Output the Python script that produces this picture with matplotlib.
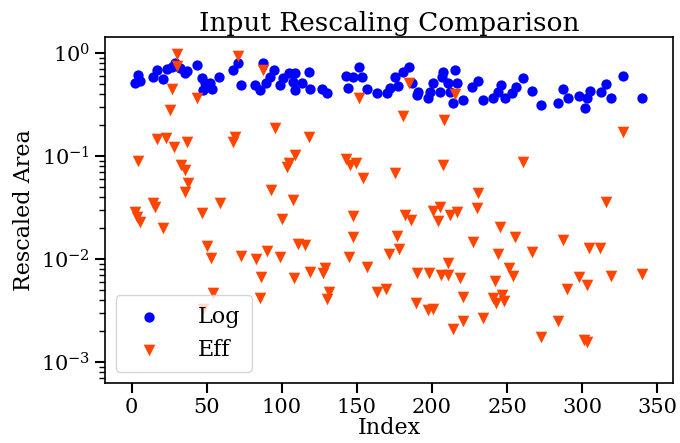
import matplotlib
matplotlib.use("Agg")
import matplotlib.pyplot as plt

plt.rcParams['font.family'] = ['DejaVu Serif']
plt.rcParams['mathtext.fontset'] = 'dejavuserif'

log_idx = [2, 4, 5.3, 14, 16.7, 20.7, 23.3, 26.7, 28.7, 32, 35.3, 36.7, 43.3, 46.7, 48.7, 47.3,
           52, 53.3, 58, 67.3, 70.7, 72.7, 87.3, 82, 85.3, 89.3, 92, 94.7, 98.7, 100.7, 104.7,
           108.7, 107.3, 108.7, 113.3, 118, 118.7, 126.7, 130, 142.7, 147.3, 151.3, 153.3, 144,
           156.7, 163.3, 170, 172, 175.3, 177.3, 180.7, 184.7, 186.7, 190, 190.7, 197.3, 198.7,
           200.7, 206.7, 207.3, 205.3, 210.7, 212, 215.3, 216.7, 214, 220.7, 226.7, 230.7, 234,
           240.7, 244, 246, 248.7, 253.3, 256, 260.7, 266.7, 272.7, 284, 287.3, 290.7, 298, 302,
           303.3, 305.3, 312.7, 316, 319.3, 327.3, 340]
log_val = [0.51, 0.61, 0.53, 0.58, 0.68, 0.56, 0.70, 0.73, 0.80, 0.71, 0.64, 0.67, 0.76, 0.57,
           0.51, 0.44, 0.51, 0.45, 0.58, 0.68, 0.80, 0.49, 0.80, 0.49, 0.44, 0.51, 0.58, 0.68,
           0.49, 0.57, 0.64, 0.64, 0.52, 0.44, 0.51, 0.65, 0.45, 0.45, 0.41, 0.60, 0.58, 0.73,
           0.58, 0.46, 0.45, 0.41, 0.41, 0.46, 0.58, 0.48, 0.65, 0.73, 0.51, 0.39, 0.42, 0.37,
           0.42, 0.51, 0.58, 0.65, 0.42, 0.51, 0.42, 0.68, 0.51, 0.33, 0.35, 0.47, 0.53, 0.35,
           0.37, 0.42, 0.49, 0.37, 0.41, 0.47, 0.57, 0.43, 0.31, 0.33, 0.45, 0.37, 0.38, 0.29,
           0.37, 0.43, 0.42, 0.50, 0.37, 0.60, 0.37]

eff_idx = [30, 30, 70.7, 26.7, 43.3, 25.3, 16.7, 22.7, 28, 36.7, 67.3, 68.7, 4, 87.3, 151.3,
           95.3, 118, 108.7, 142.7, 184.7, 215.3, 180.7, 208, 327.3, 32.7, 35.3, 37.3, 35.3,
           14, 15.3, 2, 3.3, 5.3, 46.7, 58.7, 20.7, 50, 52.7, 72.7, 104.7, 103.3, 145.3, 149.3,
           154, 92.7, 107.3, 100, 147.3, 147.3, 110.7, 115.3, 82.7, 90, 98.7, 144.7, 156.7,
           118.7, 127.3, 128.7, 86, 108, 175.3, 207.3, 260.7, 230.7, 230, 182, 186, 200.7,
           205.3, 204, 212, 216.7, 245.3, 255.3, 176.7, 178, 171.3, 227.3, 244, 210.7, 190,
           198, 206, 210.7, 218.7, 251.3, 254, 242, 266.7, 316, 287.3, 304.7, 312, 298, 319.3,
           340, 54, 47.3, 85.3, 131.3, 130, 163.3, 169.3, 189.3, 197.3, 200.7, 220.7, 220.7,
           214, 234, 240.7, 242.7, 246.7, 248, 290, 303.3, 284, 272.7, 301, 303]
eff_val = [0.98, 0.75, 0.94, 0.45, 0.37, 0.28, 0.146, 0.150, 0.122, 0.137, 0.137, 0.153,
           0.089, 0.68, 0.37, 0.187, 0.153, 0.102, 0.094, 0.51, 0.40, 0.245, 0.224, 0.171,
           0.082, 0.073, 0.055, 0.045, 0.035, 0.032, 0.0286, 0.0256, 0.0229, 0.028, 0.035,
           0.020, 0.0134, 0.0102, 0.0107, 0.086, 0.078, 0.082, 0.086, 0.061, 0.047, 0.037,
           0.0245, 0.026, 0.0164, 0.014, 0.0137, 0.010, 0.012, 0.0105, 0.0105, 0.0084, 0.0075,
           0.0073, 0.0082, 0.0067, 0.0065, 0.068, 0.082, 0.087, 0.044, 0.031, 0.0267, 0.0239,
           0.029, 0.032, 0.0234, 0.0267, 0.0286, 0.0205, 0.0164, 0.0167, 0.0125, 0.0112,
           0.0146, 0.0112, 0.0091, 0.0073, 0.0073, 0.0070, 0.0070, 0.0065, 0.0082, 0.0068,
           0.0061, 0.0117, 0.0357, 0.0153, 0.0128, 0.0128, 0.0067, 0.0068, 0.0071, 0.0047,
           0.0033, 0.0042, 0.0048, 0.0041, 0.0048, 0.0051, 0.0037, 0.0032, 0.0033, 0.0043,
           0.0025, 0.0021, 0.0027, 0.0042, 0.0037, 0.0045, 0.0039, 0.0051, 0.0056, 0.0025,
           0.00175, 0.00165, 0.00155]

fig = plt.figure(figsize=(6.8, 4.43), dpi=100)
ax = fig.add_axes([0.154, 0.1354, 0.836, 0.781])

ax.scatter(log_idx, log_val, s=55, marker='o', color='#0000ff', label='Log', zorder=3, linewidths=0)
ax.scatter(eff_idx, eff_val, s=70, marker='v', color='#ff4500', label='Eff', zorder=3, linewidths=0)

ax.set_yscale('log')
ax.set_xlim(-18, 360.7)
ax.set_ylim(6.25e-4, 1.43)
ax.set_xticks([0, 50, 100, 150, 200, 250, 300, 350])

ax.set_title('Input Rescaling Comparison', fontsize=19, pad=4)
ax.set_xlabel('Index', fontsize=16, labelpad=0)
ax.set_ylabel('Rescaled Area', fontsize=16)

ax.tick_params(axis='both', which='major', labelsize=15, length=7, width=1.5)
ax.tick_params(axis='both', which='minor', length=4, width=1)
for sp in ax.spines.values():
    sp.set_linewidth(1.2)

leg = ax.legend(loc='lower left', fontsize=16, markerscale=1.0, handletextpad=1.2,
                borderpad=0.5, framealpha=0.8)

fig.savefig('out.png', dpi=100)
